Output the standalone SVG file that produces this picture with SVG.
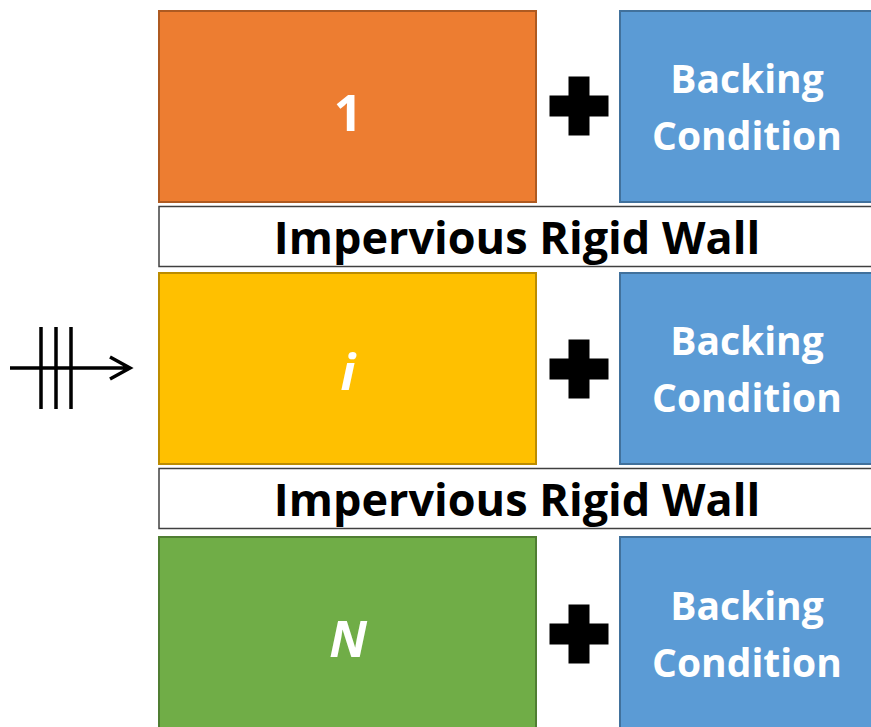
<svg xmlns="http://www.w3.org/2000/svg" width="871" height="727" viewBox="0 0 871 727">
<style>
.lbl{font-family:"Open Sans","Liberation Sans",sans-serif;font-weight:bold;fill:#fff;text-anchor:middle}
.big{font-size:50px}
.bc{font-size:39px}
.wall{fill:#fff;stroke:#404040;stroke-width:1.5}
.wt{font-family:"Open Sans","Liberation Sans",sans-serif;font-weight:bold;font-size:45px;fill:#000;text-anchor:middle}
.blue{fill:#5B9BD5;stroke:#41719C;stroke-width:2}
.plus{fill:#000}
.sym{stroke:#000;stroke-width:3.5;fill:none}
</style>
<defs>
<path id="plus" d="M-10.5,-29.5h21v19h19v21h-19v19h-21v-19h-19v-21h19z"/>
</defs>
<g id="layer1">
<rect x="159" y="11" width="377" height="191" fill="#ED7D31" stroke="#AE5A21" stroke-width="2"/>
<text class="lbl big" x="348" y="131">1</text>
</g>
<g id="plus1"><use href="#plus" class="plus" x="579" y="106"/></g>
<g id="backing1">
<rect class="blue" x="620" y="11" width="260" height="191"/>
<text class="lbl bc" x="747" y="93">Backing</text>
<text class="lbl bc" x="747" y="150">Condition</text>
</g>
<g id="wall1">
<rect class="wall" x="159" y="206.5" width="720" height="60"/>
<text class="wt" x="517" y="254">Impervious Rigid Wall</text>
</g>
<g id="layeri">
<rect x="159" y="273" width="377" height="191" fill="#FFC000" stroke="#BC8C00" stroke-width="2"/>
<text class="lbl big" x="348" y="390" font-style="italic">i</text>
</g>
<g id="plus2"><use href="#plus" class="plus" x="579" y="369"/></g>
<g id="backing2">
<rect class="blue" x="620" y="273" width="260" height="191"/>
<text class="lbl bc" x="747" y="355">Backing</text>
<text class="lbl bc" x="747" y="412">Condition</text>
</g>
<g id="wall2">
<rect class="wall" x="159" y="468.5" width="720" height="60"/>
<text class="wt" x="517" y="516">Impervious Rigid Wall</text>
</g>
<g id="layerN">
<rect x="159" y="537" width="377" height="200" fill="#70AD47" stroke="#507E32" stroke-width="2"/>
<text class="lbl big" x="348" y="657" font-style="italic">N</text>
</g>
<g id="plus3"><use href="#plus" class="plus" x="579" y="634"/></g>
<g id="backing3">
<rect class="blue" x="620" y="537" width="260" height="200"/>
<text class="lbl bc" x="747" y="620">Backing</text>
<text class="lbl bc" x="747" y="677">Condition</text>
</g>
<g id="connectors">
<path class="sym" d="M10,368H130M110,357L130,368L110,379M41,327V409M56,327V409M71,327V409"/>
</g>
</svg>
